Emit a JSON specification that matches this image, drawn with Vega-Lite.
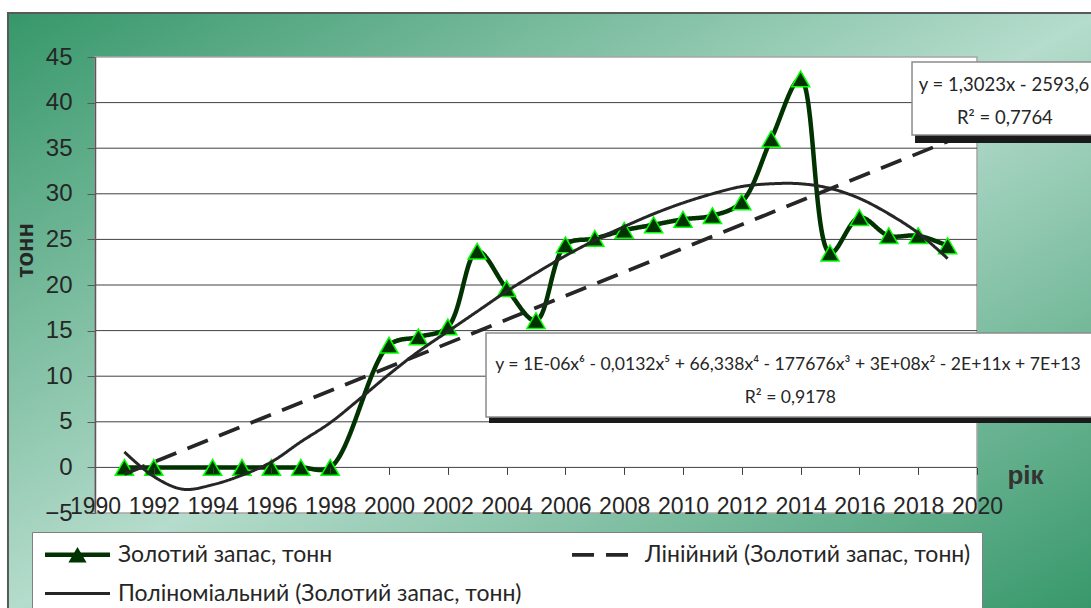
{
  "$schema": "https://vega.github.io/schema/vega-lite/v6.json",
  "width": 882,
  "height": 456,
  "autosize": {"type": "none"},
  "padding": {"left": 95, "top": 57, "right": 114, "bottom": 95},
  "background": "white",
  "config": {"view": {"stroke": null}, "font": "Liberation Sans"},
  "datasets": {
    "gold": [
      {"year": 1991, "value": 0, "series": "Золотий запас, тонн"},
      {"year": 1992, "value": 0, "series": "Золотий запас, тонн"},
      {"year": 1994, "value": 0, "series": "Золотий запас, тонн"},
      {"year": 1995, "value": 0, "series": "Золотий запас, тонн"},
      {"year": 1996, "value": 0, "series": "Золотий запас, тонн"},
      {"year": 1997, "value": 0, "series": "Золотий запас, тонн"},
      {"year": 1998, "value": 0, "series": "Золотий запас, тонн"},
      {"year": 2000, "value": 13.4, "series": "Золотий запас, тонн"},
      {"year": 2001, "value": 14.3, "series": "Золотий запас, тонн"},
      {"year": 2002, "value": 15.4, "series": "Золотий запас, тонн"},
      {"year": 2003, "value": 23.7, "series": "Золотий запас, тонн"},
      {"year": 2004, "value": 19.6, "series": "Золотий запас, тонн"},
      {"year": 2005, "value": 16.1, "series": "Золотий запас, тонн"},
      {"year": 2006, "value": 24.4, "series": "Золотий запас, тонн"},
      {"year": 2007, "value": 25.1, "series": "Золотий запас, тонн"},
      {"year": 2008, "value": 26.0, "series": "Золотий запас, тонн"},
      {"year": 2009, "value": 26.6, "series": "Золотий запас, тонн"},
      {"year": 2010, "value": 27.2, "series": "Золотий запас, тонн"},
      {"year": 2011, "value": 27.6, "series": "Золотий запас, тонн"},
      {"year": 2012, "value": 29.1, "series": "Золотий запас, тонн"},
      {"year": 2013, "value": 36.0, "series": "Золотий запас, тонн"},
      {"year": 2014, "value": 42.6, "series": "Золотий запас, тонн"},
      {"year": 2015, "value": 23.5, "series": "Золотий запас, тонн"},
      {"year": 2016, "value": 27.4, "series": "Золотий запас, тонн"},
      {"year": 2017, "value": 25.4, "series": "Золотий запас, тонн"},
      {"year": 2018, "value": 25.4, "series": "Золотий запас, тонн"},
      {"year": 2019, "value": 24.3, "series": "Золотий запас, тонн"}
    ],
    "linear": [
      {"year": 1991, "value": -0.72, "series": "Лінійний (Золотий запас, тонн)"},
      {"year": 2019, "value": 35.74, "series": "Лінійний (Золотий запас, тонн)"}
    ],
    "poly": [
      {"year": 1991, "value": 1.7, "series": "Поліноміальний (Золотий запас, тонн)"},
      {"year": 1992, "value": -1.0, "series": "Поліноміальний (Золотий запас, тонн)"},
      {"year": 1993, "value": -2.4, "series": "Поліноміальний (Золотий запас, тонн)"},
      {"year": 1994, "value": -1.9, "series": "Поліноміальний (Золотий запас, тонн)"},
      {"year": 1995, "value": -0.85, "series": "Поліноміальний (Золотий запас, тонн)"},
      {"year": 1996, "value": 0.6, "series": "Поліноміальний (Золотий запас, тонн)"},
      {"year": 1997, "value": 2.8, "series": "Поліноміальний (Золотий запас, тонн)"},
      {"year": 1998, "value": 4.9, "series": "Поліноміальний (Золотий запас, тонн)"},
      {"year": 1999, "value": 7.5, "series": "Поліноміальний (Золотий запас, тонн)"},
      {"year": 2000, "value": 10.2, "series": "Поліноміальний (Золотий запас, тонн)"},
      {"year": 2001, "value": 12.7, "series": "Поліноміальний (Золотий запас, тонн)"},
      {"year": 2002, "value": 14.9, "series": "Поліноміальний (Золотий запас, тонн)"},
      {"year": 2003, "value": 17.1, "series": "Поліноміальний (Золотий запас, тонн)"},
      {"year": 2004, "value": 19.3, "series": "Поліноміальний (Золотий запас, тонн)"},
      {"year": 2005, "value": 21.3, "series": "Поліноміальний (Золотий запас, тонн)"},
      {"year": 2006, "value": 23.2, "series": "Поліноміальний (Золотий запас, тонн)"},
      {"year": 2007, "value": 24.9, "series": "Поліноміальний (Золотий запас, тонн)"},
      {"year": 2008, "value": 26.4, "series": "Поліноміальний (Золотий запас, тонн)"},
      {"year": 2009, "value": 27.8, "series": "Поліноміальний (Золотий запас, тонн)"},
      {"year": 2010, "value": 29.0, "series": "Поліноміальний (Золотий запас, тонн)"},
      {"year": 2011, "value": 30.0, "series": "Поліноміальний (Золотий запас, тонн)"},
      {"year": 2012, "value": 30.8, "series": "Поліноміальний (Золотий запас, тонн)"},
      {"year": 2013, "value": 31.1, "series": "Поліноміальний (Золотий запас, тонн)"},
      {"year": 2014, "value": 31.1, "series": "Поліноміальний (Золотий запас, тонн)"},
      {"year": 2015, "value": 30.6, "series": "Поліноміальний (Золотий запас, тонн)"},
      {"year": 2016, "value": 29.5, "series": "Поліноміальний (Золотий запас, тонн)"},
      {"year": 2017, "value": 27.8, "series": "Поліноміальний (Золотий запас, тонн)"},
      {"year": 2018, "value": 25.7, "series": "Поліноміальний (Золотий запас, тонн)"},
      {"year": 2019, "value": 22.9, "series": "Поліноміальний (Золотий запас, тонн)"}
    ],
    "grid": [
      {"value": 0}, {"value": 5}, {"value": 10}, {"value": 15}, {"value": 20},
      {"value": 25}, {"value": 30}, {"value": 35}, {"value": 40}
    ],
    "notesLinear": [
      {"year": 2020.92, "value": 41.9, "label": "y = 1,3023x - 2593,6"},
      {"year": 2020.95, "value": 38.3, "label": "R² = 0,7764"}
    ],
    "notesPoly": [
      {"year": 2013.57, "value": 11.2, "label": "y = 1E-06x⁶ - 0,0132x⁵ + 66,338x⁴ - 177676x³ + 3E+08x² - 2E+11x + 7E+13"},
      {"year": 2013.65, "value": 7.6, "label": "R² = 0,9178"}
    ]
  },
  "layer": [
    {
      "data": {"values": [{}]},
      "mark": {
        "type": "rect",
        "clip": false,
        "color": {
          "gradient": "linear",
          "x1": 0, "y1": 0, "x2": 1, "y2": 1,
          "stops": [
            {"offset": 0, "color": "#36976a"},
            {"offset": 0.5, "color": "#b5dccc"},
            {"offset": 1, "color": "#36976a"}
          ]
        },
        "stroke": "#595959",
        "strokeWidth": 2
      },
      "encoding": {
        "x": {
          "datum": 1987.04,
          "type": "quantitative",
          "scale": {"domain": [1990, 2020], "nice": false, "zero": false},
          "axis": {
            "values": [1990, 1992, 1994, 1996, 1998, 2000, 2002, 2004, 2006, 2008, 2010, 2012, 2014, 2016, 2018, 2020],
            "format": "d",
            "offset": -45.6,
            "domain": false,
            "grid": false,
            "ticks": true,
            "tickSize": 7,
            "tickColor": "#404040",
            "tickWidth": 1,
            "labelFont": "Liberation Sans",
            "labelFontSize": 23,
            "labelColor": "#262626",
            "labelBaseline": "alphabetic",
            "labelPadding": 39,
            "labelOverlap": false,
            "labelFlush": false,
            "title": "рік",
            "titleFont": "Liberation Sans",
            "titleFontSize": 26,
            "titleFontWeight": "bold",
            "titleColor": "#333333",
            "titleX": 930,
            "titleY": 8,
            "titleAlign": "center",
            "titleBaseline": "middle",
            "zindex": 1
          }
        },
        "x2": {"datum": 2024.2},
        "y": {
          "datum": 49.82,
          "type": "quantitative",
          "scale": {"domain": [-5, 45], "nice": false, "zero": false},
          "axis": {
            "values": [-5, 0, 5, 10, 15, 20, 25, 30, 35, 40, 45],
            "domain": true,
            "domainColor": "#595959",
            "domainWidth": 1.5,
            "grid": false,
            "ticks": true,
            "tickSize": 8,
            "tickColor": "#595959",
            "labelFont": "Liberation Sans",
            "labelFontSize": 24,
            "labelColor": "#262626",
            "labelPadding": 15,
            "labelOverlap": false,
            "labelFlush": false,
            "title": "тонн",
            "titleFont": "Liberation Sans",
            "titleFontSize": 24,
            "titleFontWeight": "bold",
            "titleColor": "#262626",
            "titleX": -70,
            "titleY": 193,
            "titleAngle": 270,
            "titleAlign": "center",
            "titleBaseline": "middle",
            "zindex": 1
          }
        },
        "y2": {"datum": -15.8}
      }
    },
    {
      "data": {"values": [{}]},
      "mark": {"type": "rect", "clip": false, "color": "white", "stroke": "#a6a6a6", "strokeWidth": 1.5},
      "encoding": {
        "x": {"datum": 1990, "type": "quantitative"},
        "x2": {"datum": 2020},
        "y": {"datum": -5, "type": "quantitative"},
        "y2": {"datum": 45}
      }
    },
    {
      "data": {"name": "grid"},
      "mark": {"type": "rule", "color": "#404040", "strokeWidth": 1},
      "encoding": {"y": {"field": "value", "type": "quantitative"}}
    },
    {
      "data": {"name": "gold"},
      "mark": {"type": "line", "interpolate": "catmull-rom", "strokeCap": "round", "strokeJoin": "round"},
      "encoding": {
        "x": {"field": "year", "type": "quantitative"},
        "y": {"field": "value", "type": "quantitative"},
        "color": {
          "field": "series",
          "type": "nominal",
          "scale": {
            "domain": ["Золотий запас, тонн", "Лінійний (Золотий запас, тонн)", "Поліноміальний (Золотий запас, тонн)"],
            "range": ["#003300", "#262626", "#262626"]
          },
          "legend": {
            "title": null,
            "orient": "none",
            "legendX": -63,
            "legendY": 475,
            "direction": "horizontal",
            "columns": 2,
            "gridAlign": "all",
            "columnPadding": 42,
            "rowPadding": 15,
            "padding": 11,
            "fillColor": "white",
            "strokeColor": "#7f7f7f",
            "labelFont": "Lato",
            "labelFontSize": 23,
            "labelColor": "#262626",
            "labelLimit": 0,
            "labelOffset": 29,
            "symbolOffset": 23,
            "symbolSize": 196,
            "symbolType": "M-4.64,0H4.64",
            "zindex": 1
          }
        },
        "strokeDash": {
          "field": "series",
          "type": "nominal",
          "scale": {
            "domain": ["Золотий запас, тонн", "Лінійний (Золотий запас, тонн)", "Поліноміальний (Золотий запас, тонн)"],
            "range": [[1, 0], [22, 12], [1, 0]]
          }
        },
        "strokeWidth": {
          "field": "series",
          "type": "nominal",
          "scale": {
            "domain": ["Золотий запас, тонн", "Лінійний (Золотий запас, тонн)", "Поліноміальний (Золотий запас, тонн)"],
            "range": [4.5, 3, 2]
          }
        }
      }
    },
    {
      "data": {"name": "gold"},
      "mark": {"type": "point", "filled": true, "fill": "#003300", "stroke": "#00ff00", "strokeWidth": 1.5, "size": 330, "opacity": 1},
      "encoding": {
        "x": {"field": "year", "type": "quantitative"},
        "y": {"field": "value", "type": "quantitative"},
        "shape": {
          "field": "series",
          "type": "nominal",
          "scale": {"domain": ["Золотий запас, тонн"], "range": ["triangle-up"]},
          "legend": {
            "title": null,
            "orient": "none",
            "legendX": -63,
            "legendY": 475,
            "direction": "horizontal",
            "columns": 2,
            "columnPadding": 42,
            "rowPadding": 15,
            "padding": 11,
            "labelFont": "Lato",
            "labelFontSize": 23,
            "labelOpacity": 0,
            "labelLimit": 0,
            "labelOffset": 29,
            "symbolOffset": 23,
            "symbolSize": 330,
            "symbolFillColor": "#003300",
            "symbolStrokeColor": "#00ff00",
            "symbolStrokeWidth": 1.5,
            "symbolOpacity": 1,
            "zindex": 2
          }
        }
      }
    },
    {
      "data": {"name": "linear"},
      "mark": {"type": "line"},
      "encoding": {
        "x": {"field": "year", "type": "quantitative"},
        "y": {"field": "value", "type": "quantitative"},
        "color": {"field": "series", "type": "nominal"},
        "strokeDash": {"field": "series", "type": "nominal"},
        "strokeWidth": {"field": "series", "type": "nominal"}
      }
    },
    {
      "data": {"name": "poly"},
      "mark": {"type": "line", "interpolate": "catmull-rom"},
      "encoding": {
        "x": {"field": "year", "type": "quantitative"},
        "y": {"field": "value", "type": "quantitative"},
        "color": {"field": "series", "type": "nominal"},
        "strokeDash": {"field": "series", "type": "nominal"},
        "strokeWidth": {"field": "series", "type": "nominal"}
      }
    },
    {
      "data": {"values": [{}]},
      "mark": {"type": "rect", "clip": false, "color": "#1a1a1a", "xOffset": 3, "x2Offset": 3, "yOffset": 8, "y2Offset": 8},
      "encoding": {
        "x": {"datum": 2017.79, "type": "quantitative"},
        "x2": {"datum": 2025},
        "y": {"datum": 44.45, "type": "quantitative"},
        "y2": {"datum": 36.45}
      }
    },
    {
      "data": {"values": [{}]},
      "mark": {"type": "rect", "clip": false, "color": "white", "stroke": "#8c8c8c", "strokeWidth": 1.5},
      "encoding": {
        "x": {"datum": 2017.79, "type": "quantitative"},
        "x2": {"datum": 2025},
        "y": {"datum": 44.45, "type": "quantitative"},
        "y2": {"datum": 36.45}
      }
    },
    {
      "data": {"values": [{}]},
      "mark": {"type": "rect", "clip": false, "color": "#1a1a1a", "xOffset": 3, "x2Offset": 3, "yOffset": 6, "y2Offset": 6},
      "encoding": {
        "x": {"datum": 2003.3, "type": "quantitative"},
        "x2": {"datum": 2025},
        "y": {"datum": 14.74, "type": "quantitative"},
        "y2": {"datum": 5.53}
      }
    },
    {
      "data": {"values": [{}]},
      "mark": {"type": "rect", "clip": false, "color": "white", "stroke": "#8c8c8c", "strokeWidth": 1.5},
      "encoding": {
        "x": {"datum": 2003.3, "type": "quantitative"},
        "x2": {"datum": 2025},
        "y": {"datum": 14.74, "type": "quantitative"},
        "y2": {"datum": 5.53}
      }
    },
    {
      "data": {"name": "notesLinear"},
      "mark": {"type": "text", "clip": false, "font": "Lato", "fontSize": 18.5, "color": "#262626", "align": "center", "baseline": "middle"},
      "encoding": {
        "x": {"field": "year", "type": "quantitative"},
        "y": {"field": "value", "type": "quantitative"},
        "text": {"field": "label", "type": "nominal"}
      }
    },
    {
      "data": {"name": "notesPoly"},
      "mark": {"type": "text", "clip": false, "font": "Lato", "fontSize": 17.6, "color": "#262626", "align": "center", "baseline": "middle"},
      "encoding": {
        "x": {"field": "year", "type": "quantitative"},
        "y": {"field": "value", "type": "quantitative"},
        "text": {"field": "label", "type": "nominal"}
      }
    }
  ]
}
